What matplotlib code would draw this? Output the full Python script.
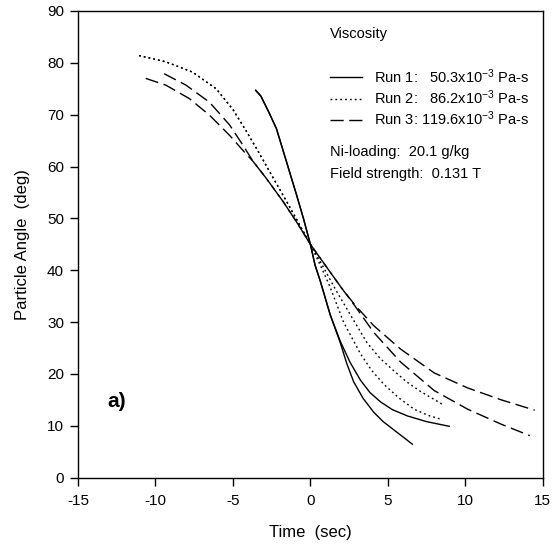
import matplotlib
matplotlib.use("Agg")
import matplotlib.pyplot as plt
from matplotlib.lines import Line2D

plt.rcParams['font.family'] = ['Liberation Sans', 'DejaVu Sans']
plt.rcParams['mathtext.fontset'] = 'custom'
plt.rcParams['mathtext.rm'] = 'Liberation Sans'
plt.rcParams['mathtext.default'] = 'regular'

# ---- data ----
run1a_x = [-3.53, -3.2, -2.7, -2.19, -1.54, -0.89, -0.45, 0.0, 0.3, 0.63, 1.28, 1.93, 2.35, 2.79, 3.4, 4.09, 4.7, 5.39, 6.0, 6.58]
run1a_y = [74.7, 73.6, 70.6, 67.3, 60.9, 54.5, 50.0, 45.0, 41.0, 38.0, 31.4, 26.0, 22.0, 18.5, 15.3, 12.6, 10.8, 9.2, 7.8, 6.45]
run1b_x = [-3.53, -3.2, -2.7, -2.19, -1.54, -0.89, -0.45, 0.0, 0.3, 0.63, 1.28, 1.93, 2.55, 3.23, 3.85, 4.53, 5.3, 6.26, 7.5, 8.96]
run1b_y = [74.7, 73.6, 70.6, 67.3, 60.9, 54.5, 50.0, 45.0, 41.0, 38.0, 31.4, 26.3, 22.3, 18.8, 16.4, 14.6, 13.1, 11.9, 10.8, 9.9]

run2a_x = [-11.06, -9.33, -7.6, -6.08, -5.0, -4.13, -3.27, -2.4, -1.54, -0.78, 0.0, 0.8, 1.6, 2.58, 3.66, 4.5, 5.39, 6.2, 7.12, 8.6]
run2a_y = [81.4, 80.2, 78.2, 75.0, 71.0, 66.8, 62.4, 57.8, 53.3, 49.2, 45.0, 40.8, 36.4, 31.4, 26.0, 23.0, 20.6, 18.5, 16.6, 14.0]
run2b_x = [-11.06, -9.33, -7.6, -6.08, -5.0, -4.13, -3.27, -2.4, -1.54, -0.78, 0.0, 0.7, 1.28, 2.14, 3.23, 3.95, 4.74, 5.7, 6.69, 7.6, 8.5]
run2b_y = [81.4, 80.2, 78.2, 75.0, 71.0, 66.8, 62.4, 57.8, 53.3, 49.2, 45.0, 40.6, 36.7, 30.0, 23.9, 20.7, 18.0, 15.4, 13.2, 12.0, 11.2]

run3a_x = [-10.63, -9.33, -7.81, -6.51, -5.21, -4.2, -3.7, -2.84, -1.75, -0.89, 0.0, 1.0, 2.03, 2.9, 4.09, 5.82, 7.99, 10.15, 12.32, 14.48]
run3a_y = [77.0, 75.7, 73.1, 69.9, 66.0, 62.6, 61.0, 57.7, 53.2, 49.3, 45.0, 40.8, 36.5, 33.2, 29.3, 24.8, 20.2, 17.3, 15.0, 13.0]
run3b_x = [-9.44, -8.03, -6.51, -5.21, -4.35, -3.7, -2.84, -1.75, -0.89, 0.0, 1.0, 2.03, 2.9, 4.09, 5.82, 7.99, 10.15, 12.32, 14.16]
run3b_y = [77.9, 75.7, 72.4, 68.0, 64.1, 61.0, 57.7, 53.2, 49.3, 45.0, 40.8, 36.5, 33.0, 28.0, 22.3, 16.8, 13.2, 10.3, 8.1]

x_ticks = [-15, -10, -5, 0, 5, 10, 15]
y_ticks = [0, 10, 20, 30, 40, 50, 60, 70, 80, 90]

labels = ["Run 1:   50.3x10$^{-3}$ Pa-s",
          "Run 2:   86.2x10$^{-3}$ Pa-s",
          "Run 3: 119.6x10$^{-3}$ Pa-s"]

# ---- figure ----
fig = plt.figure(figsize=(5.55, 5.49), dpi=100)
ax = fig.add_axes([0.1405, 0.130, 0.8375, 0.850])

solid = dict(color='black', lw=1.0, linestyle='-')
dotted = dict(color='black', lw=1.0, linestyle=(0, (1.3, 2.2)))
dashed = dict(color='black', lw=1.0, linestyle=(0, (9.5, 4.0)))

for xs, ys, st in [(run1a_x, run1a_y, solid), (run1b_x, run1b_y, solid),
                   (run2a_x, run2a_y, dotted), (run2b_x, run2b_y, dotted),
                   (run3a_x, run3a_y, dashed), (run3b_x, run3b_y, dashed)]:
    ax.plot(xs, ys, solid_joinstyle='round', dash_joinstyle='round', **st)

ax.set_xlim(-15, 15)
ax.set_ylim(0, 90)
ax.set_xticks(x_ticks)
ax.set_yticks(y_ticks)
ax.set_xticklabels([str(t) for t in x_ticks])
ax.tick_params(axis='both', direction='out', length=6, width=1, labelsize=11, pad=6)
ax.tick_params(axis='y', pad=4)
for s in ax.spines.values():
    s.set_linewidth(1.0)

ax.set_xlabel("Time  (sec)", fontsize=12, labelpad=12)
ax.set_ylabel("Particle Angle  (deg)", fontsize=12, labelpad=12)

handles = [Line2D([], [], **solid), Line2D([], [], **dotted), Line2D([], [], **dashed)]
leg = ax.legend(handles, labels, loc='upper left',
                bbox_to_anchor=(0.542, 0.880), frameon=False, fontsize=10.5,
                handlelength=2.2, handletextpad=0.8, labelspacing=0.18,
                borderpad=0.0, borderaxespad=0.0)

ax.text(0.542, 0.950, "Viscosity", transform=ax.transAxes,
        fontsize=10.5, va='center', ha='left')
ax.text(0.542, 0.698, "Ni-loading:  20.1 g/kg", transform=ax.transAxes,
        fontsize=10.5, va='center', ha='left')
ax.text(0.542, 0.650, "Field strength:  0.131 T", transform=ax.transAxes,
        fontsize=10.5, va='center', ha='left')

ax.text(-12.5, 14.6, "a)", fontsize=15, fontweight='bold', ha='center', va='center')

fig.savefig("out.png", dpi=100)
